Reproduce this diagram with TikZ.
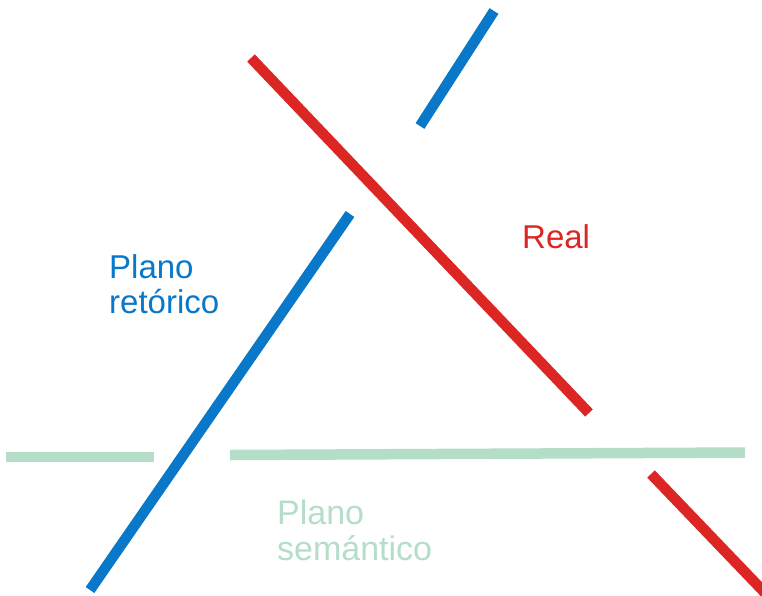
\documentclass[tikz,border=0pt]{standalone}
\usepackage{fontspec}
\setmainfont{Liberation Sans}
\definecolor{cred}{RGB}{220,38,36}
\definecolor{cblue}{RGB}{10,120,200}
\definecolor{cgreen}{RGB}{180,222,200}
\begin{document}
\begin{tikzpicture}[x=1pt,y=-1pt,
  bar/.style={line width=10.5pt},
  lbl/.style={anchor=base west,inner sep=0pt,align=left}]
\useasboundingbox (0,0) rectangle (762,595);
% coordinates
\coordinate (r1a) at (251,58);
\coordinate (r1b) at (589,413);
\coordinate (r2a) at (651,474);
\coordinate (r2b) at (767,595);
\coordinate (b1a) at (494,11);
\coordinate (b1b) at (420,126);
\coordinate (b2a) at (350,214);
\coordinate (b2b) at (90,590);
\coordinate (g1a) at (6,457);
\coordinate (g1b) at (154,457);
\coordinate (g2a) at (230,455);
\coordinate (g2b) at (745,452.5);
% lines
\draw[bar,cgreen] (g1a) -- (g1b);
\draw[bar,cgreen] (g2a) -- (g2b);
\draw[bar,cred] (r1a) -- (r1b);
\draw[bar,cred] (r2a) -- (r2b);
\draw[bar,cblue] (b1a) -- (b1b);
\draw[bar,cblue] (b2a) -- (b2b);
% labels
\node[lbl,text=cred,font=\fontsize{33}{36}\selectfont] (real) at (522,248) {Real};
\node[lbl,text=cblue,font=\fontsize{33}{35}\selectfont] (ret) at (109,313) {Plano\\retórico};
\node[lbl,text=cgreen,font=\fontsize{34}{36}\selectfont] (sem) at (277,560) {Plano\\semántico};
\end{tikzpicture}
\end{document}
